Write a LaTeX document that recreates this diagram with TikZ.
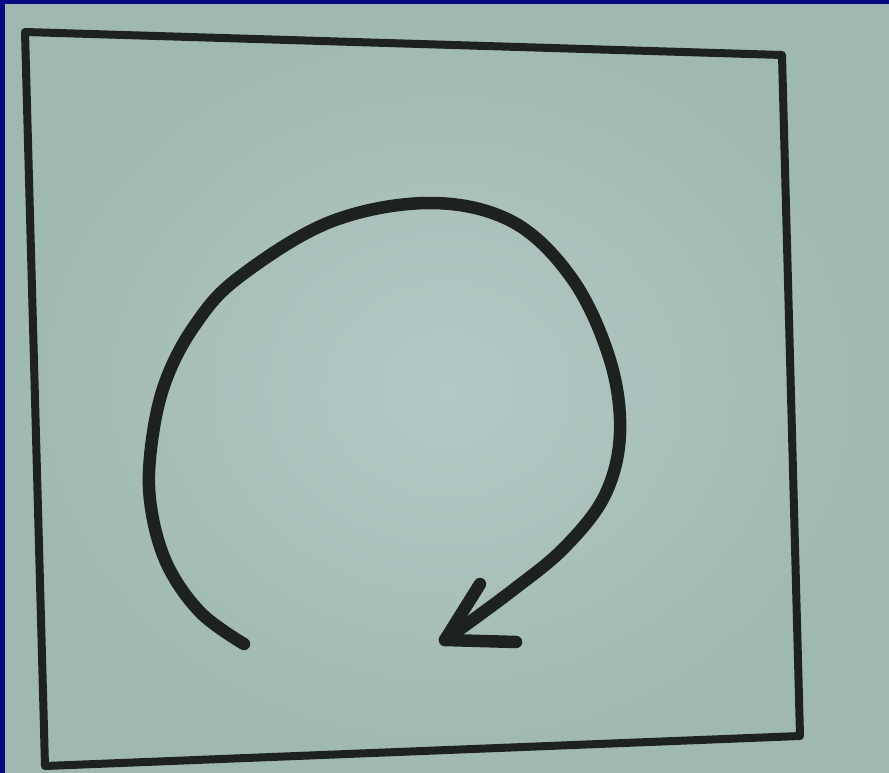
\documentclass[tikz,border=0pt]{standalone}
\usetikzlibrary{calc}
\definecolor{frameblue}{RGB}{8,8,128}
\definecolor{paper}{RGB}{160,184,178}
\definecolor{paperlight}{RGB}{178,200,196}
\definecolor{ink}{RGB}{30,34,30}
\tikzset{
  pen/.style={draw=ink, line width=8, line cap=round, line join=round},
  marker/.style={draw=ink, line width=12.5, line cap=round, line join=round},
}
\begin{document}
\begin{tikzpicture}[x=1pt,y=-1pt]
\useasboundingbox (0,0) rectangle (889,773);
\fill[frameblue] (0,0) rectangle (889,773);
\shade[inner color=paperlight, outer color=paper] (5,5) rectangle (889,773);
% hand-drawn square
\coordinate (tl) at (25,32);
\coordinate (tr) at (782,55);
\coordinate (br) at (800,736);
\coordinate (bl) at (45,766);
\draw[pen] (tl) -- (tr) -- (br) -- (bl) -- cycle;
% circular arrow
\coordinate (tail) at (244,644);
\coordinate (tip) at (445,640);
\coordinate (barbA) at (480,584);
\coordinate (barbB) at (516,642);
\draw[marker] plot[smooth, tension=0.6] coordinates {
  (tail) (200,612) (166,562) (150,500) (152,440) (166,380) (195,325) (238,278)
  (330,222) (430,203) (513,222) (573,280) (610,360) (620,433) (605,495)
  (565,547) (513,590) (tip)};
\draw[marker] (barbA) -- (tip) -- (barbB);
\end{tikzpicture}
\end{document}
